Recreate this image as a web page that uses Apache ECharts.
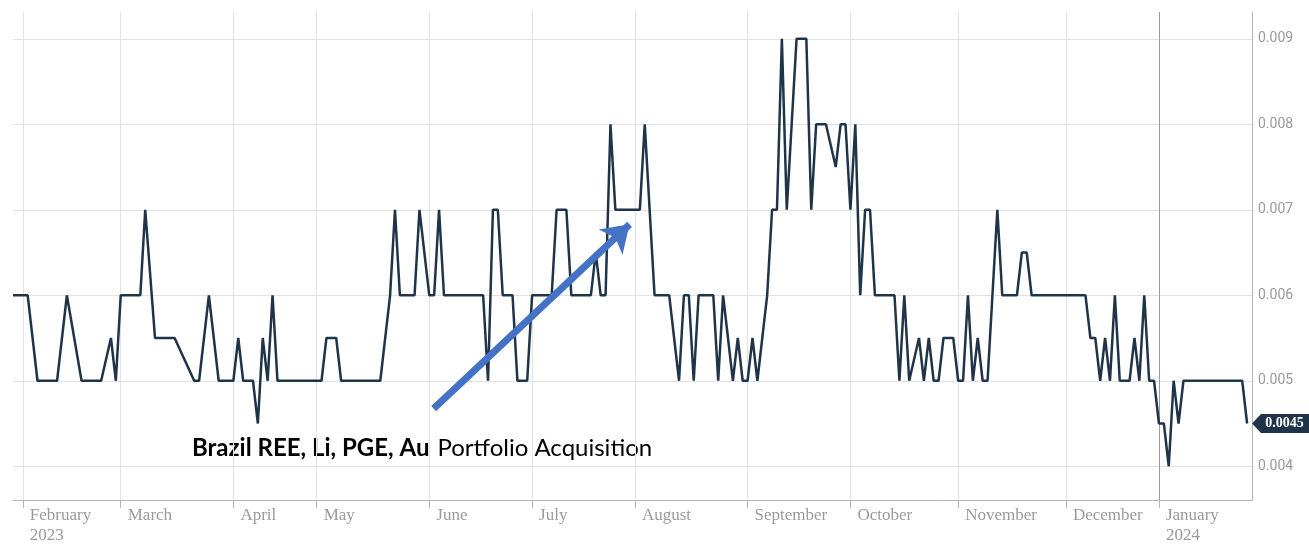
<!DOCTYPE html>
<html>
<head>
<meta charset="utf-8">
<script src="https://cdn.jsdelivr.net/npm/echarts@6/dist/echarts.min.js"></script>
<style>
  html, body { margin: 0; padding: 0; background: #ffffff; }
  #chart { width: 1309px; height: 546px; }
</style>
</head>
<body>
<div id="chart"></div>
<script>
// Trading-day index (ASX sessions, 0 = 30 Jan 2023) of each vertex of the price line
const dayIndex = [
  0, 3, 5, 9, 11, 14, 18, 20, 21, 22, 26, 27, 29, 33, 37, 38, 40, 42, 45, 46, 47, 49, 50, 51, 52, 53, 54,
  63, 64, 66, 67, 75, 77, 78, 79, 82, 83, 85, 86, 87, 88, 96, 97, 98, 99, 100, 102, 103, 105, 106,
  110, 111, 113, 114, 118, 119, 120, 121, 122, 123, 128, 129, 131, 134, 136, 137, 138, 139, 140,
  143, 144, 145, 147, 148, 149, 150, 151, 152, 154, 155, 156, 157, 158, 160, 162, 163, 164, 166,
  168, 169, 170, 171, 172, 173, 174, 175, 176, 180, 181, 182, 183, 185, 186, 187, 188, 189, 190,
  192, 193, 194, 195, 196, 197, 198, 199, 200, 201, 202, 205, 206, 207, 208, 219, 220, 221, 222,
  223, 224, 225, 226, 228, 229, 230, 231, 232, 233, 234, 235, 236, 237, 238, 239, 251, 252
];
// Share price at each vertex
const price = [
  0.006, 0.006, 0.005, 0.005, 0.006, 0.005, 0.005, 0.0055, 0.005, 0.006, 0.006, 0.007, 0.0055, 0.0055, 0.005, 0.005, 0.006, 0.005, 0.005, 0.0055, 0.005, 0.005, 0.0045, 0.0055, 0.005, 0.006, 0.005,
  0.005, 0.0055, 0.0055, 0.005, 0.005, 0.006, 0.007, 0.006, 0.006, 0.007, 0.006, 0.006, 0.007, 0.006, 0.006, 0.005, 0.007, 0.007, 0.006, 0.006, 0.005, 0.005, 0.006,
  0.006, 0.007, 0.007, 0.006, 0.006, 0.0065, 0.006, 0.006, 0.008, 0.007, 0.007, 0.008, 0.006, 0.006, 0.005, 0.006, 0.006, 0.005, 0.006,
  0.006, 0.005, 0.006, 0.005, 0.0055, 0.005, 0.005, 0.0055, 0.005, 0.006, 0.007, 0.007, 0.009, 0.007, 0.009, 0.009, 0.007, 0.008, 0.008,
  0.0075, 0.008, 0.008, 0.007, 0.008, 0.006, 0.007, 0.007, 0.006, 0.006, 0.005, 0.006, 0.005, 0.0055, 0.005, 0.0055, 0.005, 0.005, 0.0055,
  0.0055, 0.005, 0.005, 0.006, 0.005, 0.0055, 0.005, 0.005, 0.006, 0.007, 0.006, 0.006, 0.0065, 0.0065, 0.006, 0.006, 0.0055, 0.0055, 0.005,
  0.0055, 0.005, 0.006, 0.005, 0.005, 0.0055, 0.005, 0.006, 0.005, 0.005, 0.0045, 0.0045, 0.004, 0.005, 0.0045, 0.005, 0.005, 0.0045
];
// Month starts (trading-day index) and their labels
const monthTicks = [2, 22, 45, 62, 85, 106, 127, 150, 171, 193, 215, 234];
const monthNames = ['February', 'March', 'April', 'May', 'June', 'July', 'August', 'September', 'October', 'November', 'December', 'January'];
const yearNames = ['2023', '', '', '', '', '', '', '', '', '', '', '2024'];
const yTicks = [0.004, 0.005, 0.006, 0.007, 0.008, 0.009];
const xRange = [0, 253];
const yRange = [0.003605, 0.009314];
const lastPrice = 0.0045;
// Annotation arrow (trading-day index, price)
const arrowFrom = [85.9, 0.004674];
const arrowTo = [125.9, 0.00683];
const noteBold = 'Brazil REE, Li, PGE, Au';
const noteRest = 'Portfolio Acquisition';

const lineData = dayIndex.map((d, i) => [d, price[i]]);
const splitColors = monthTicks.map((t, i) => (i === monthTicks.length - 1 ? '#9a9a9a' : '#e2e2e2'));

const chart = echarts.init(document.getElementById('chart'), null, { renderer: 'canvas' });
chart.setOption({
  animation: false,
  backgroundColor: '#ffffff',
  grid: { left: 13, right: 57, top: 12, bottom: 42, containLabel: false },
  xAxis: {
    type: 'value',
    min: xRange[0],
    max: xRange[1],
    axisLine: { show: true, onZero: false, lineStyle: { color: '#b4b4b4', width: 1 } },
    axisTick: { show: true, customValues: monthTicks, length: 8, lineStyle: { color: '#b4b4b4' } },
    splitLine: { show: true, lineStyle: { color: splitColors, width: 1 } },
    axisLabel: {
      customValues: monthTicks,
      align: 'left',
      verticalAlign: 'top',
      margin: 6,
      padding: [0, 0, 0, 7],
      color: '#9a9a9a',
      fontFamily: 'Liberation Serif',
      fontSize: 17,
      lineHeight: 20,
      formatter: function (v) {
        const i = monthTicks.indexOf(v);
        if (i < 0) return '';
        return yearNames[i] ? monthNames[i] + '\n' + yearNames[i] : monthNames[i];
      }
    }
  },
  yAxis: {
    type: 'value',
    position: 'right',
    min: yRange[0],
    max: yRange[1],
    axisLine: { show: true, onZero: false, lineStyle: { color: '#b4b4b4', width: 1 } },
    axisTick: { show: false, customValues: yTicks },
    splitLine: { show: true, lineStyle: { color: '#e2e2e2', width: 1 } },
    axisLabel: {
      customValues: yTicks,
      margin: 6,
      color: '#9a9a9a',
      fontFamily: 'Roboto',
      fontSize: 14,
      formatter: function (v) { return String(+v.toFixed(4)); }
    }
  },
  series: [{
    type: 'line',
    data: lineData,
    showSymbol: false,
    clip: false,
    lineStyle: { color: '#1f3449', width: 2.5 },
    emphasis: { disabled: true },
    markLine: {
      silent: true,
      symbol: ['none', 'arrow'],
      symbolSize: [26, 26],
      label: { show: false },
      lineStyle: { color: '#4472c4', width: 7, type: 'solid' },
      emphasis: { disabled: true },
      data: [[{ coord: arrowFrom }, { coord: arrowTo }]]
    },
    markPoint: {
      silent: true,
      symbol: 'path://M0,9.5L9,0L57,0L57,19L9,19Z',
      symbolSize: [57, 19],
      symbolKeepAspect: false,
      symbolOffset: ['50%', 0],
      itemStyle: { color: '#1f3449' },
      label: {
        show: true,
        position: 'inside',
        offset: [4, 0],
        color: '#ffffff',
        fontFamily: 'Liberation Serif',
        fontWeight: 'bold',
        fontSize: 14,
        formatter: String(lastPrice)
      },
      data: [{ coord: [xRange[1], lastPrice] }]
    }
  }],
  graphic: [{
    type: 'text',
    left: 192,
    top: 436,
    style: {
      text: '{b|' + noteBold + '}{r|' + noteRest + '}',
      rich: {
        b: { fontFamily: 'Lato', fontWeight: 'bold', fontSize: 24, fill: '#000000', color: '#000000' },
        r: { fontFamily: 'Lato', fontWeight: 'normal', fontSize: 24, fill: '#000000', color: '#000000', padding: [0, 0, 0, 8] }
      }
    }
  }]
});
</script>
</body>
</html>
